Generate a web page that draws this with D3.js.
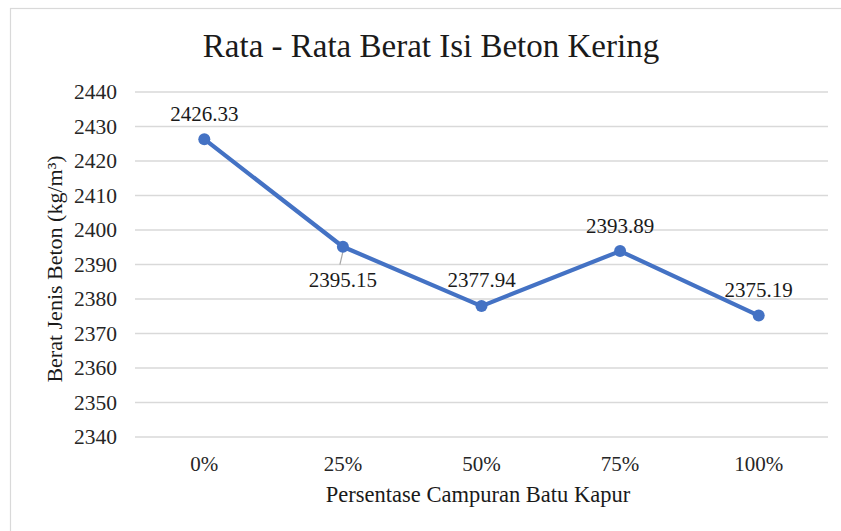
<!DOCTYPE html>
<html>
<head>
<meta charset="utf-8">
<script src="https://cdn.jsdelivr.net/npm/d3@7"></script>
<style>
  html, body { margin: 0; padding: 0; background: #fff; }
  svg { display: block; font-family: "Liberation Serif", "Times New Roman", serif; }
</style>
</head>
<body>
<svg id="chart" width="841" height="531"></svg>
<script>
// Average dry unit weight of concrete by limestone replacement
const categories = ["0%", "25%", "50%", "75%", "100%"];
const values = [2426.33, 2395.15, 2377.94, 2393.89, 2375.19];
const yTicks = [2340, 2350, 2360, 2370, 2380, 2390, 2400, 2410, 2420, 2430, 2440];
const labelDy = [-26, 33, -26, -25, -26];

const SERIF = "'Liberation Serif', 'Times New Roman', serif";
const svg = d3.select("#chart");
const W = 841, H = 531;
const margin = { left: 135, right: 13, top: 92, bottom: 94 };

// chart frame
svg.append("rect")
  .attr("x", 10.5).attr("y", 8.5)
  .attr("width", W).attr("height", H)
  .attr("fill", "#fff").attr("stroke", "#d9d9d9").attr("stroke-width", 1.2);

const x = d3.scaleBand()
  .domain(categories)
  .range([margin.left, W - margin.right]);

const y = d3.scaleLinear()
  .domain([2340, 2440])
  .range([H - margin.bottom, margin.top]);

// gridlines
svg.append("g")
  .selectAll("line")
  .data(yTicks)
  .join("line")
  .attr("x1", margin.left).attr("x2", W - margin.right)
  .attr("y1", d => y(d)).attr("y2", d => y(d))
  .attr("stroke", "#d9d9d9").attr("stroke-width", 1.3);

// y axis labels
const yAxis = d3.axisLeft(y).tickValues(yTicks).tickSize(0).tickPadding(0).tickFormat(d3.format("d"));
svg.append("g")
  .attr("transform", `translate(${margin.left - 18},0)`)
  .call(yAxis)
  .call(g => g.select(".domain").remove())
  .selectAll("text")
  .style("font-family", SERIF)
  .style("font-size", "21.5px")
  .attr("fill", "#262626");

// x axis labels
const xAxis = d3.axisBottom(x).tickSize(0).tickPadding(0);
svg.append("g")
  .attr("transform", `translate(0,${H - margin.bottom + 19})`)
  .call(xAxis)
  .call(g => g.select(".domain").remove())
  .selectAll("text")
  .style("font-family", SERIF)
  .style("font-size", "21px")
  .attr("fill", "#262626");

// title
svg.append("text")
  .attr("x", 431).attr("y", 57)
  .attr("text-anchor", "middle")
  .style("font-size", "33px")
  .attr("fill", "#1a1a1a")
  .text("Rata - Rata Berat Isi Beton Kering");

// axis titles
svg.append("text")
  .attr("x", 478).attr("y", 502)
  .attr("text-anchor", "middle")
  .style("font-size", "22.5px")
  .attr("fill", "#1a1a1a")
  .text("Persentase Campuran Batu Kapur");

svg.append("text")
  .attr("transform", "translate(62,269) rotate(-90)")
  .attr("text-anchor", "middle")
  .style("font-size", "22px")
  .attr("fill", "#1a1a1a")
  .text("Berat Jenis Beton (kg/m³)");

const px = (d, i) => x(categories[i]) + x.bandwidth() / 2;

// leader line for the label placed below its point
svg.append("line")
  .attr("x1", px(null, 1)).attr("x2", px(null, 1) - 3)
  .attr("y1", y(values[1]) + 5).attr("y2", y(values[1]) + labelDy[1] - 15)
  .attr("stroke", "#a6a6a6").attr("stroke-width", 1.2);

// series line
const line = d3.line().x(px).y(d => y(d));
svg.append("path")
  .datum(values)
  .attr("d", line)
  .attr("fill", "none")
  .attr("stroke", "#4472C4")
  .attr("stroke-width", 4.2)
  .attr("stroke-linejoin", "round");

svg.append("g")
  .selectAll("circle")
  .data(values)
  .join("circle")
  .attr("cx", px)
  .attr("cy", d => y(d))
  .attr("r", 6)
  .attr("fill", "#4472C4");

// data labels
svg.append("g")
  .selectAll("text")
  .data(values)
  .join("text")
  .attr("x", px)
  .attr("y", (d, i) => y(d) + labelDy[i])
  .attr("dy", "0.35em")
  .attr("text-anchor", "middle")
  .style("font-size", "21px")
  .attr("fill", "#1a1a1a")
  .text(d => d.toFixed(2));
</script>
</body>
</html>
